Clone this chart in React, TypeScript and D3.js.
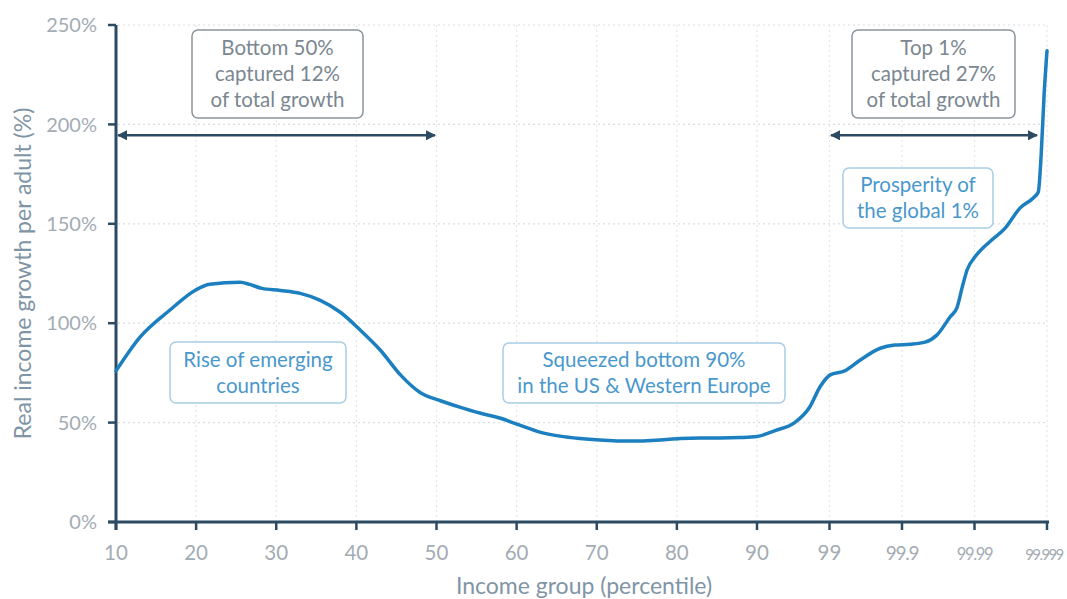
import React from "react";
import * as d3 from "d3";

// x tick labels (evenly spaced categories on a piecewise axis)
const xTickLabels = ["10", "20", "30", "40", "50", "60", "70", "80", "90", "99", "99.9", "99.99", "99.999"];
const yTicks = [0, 50, 100, 150, 200, 250];

// curve: position on the tick axis (0 = p10 ... 12 = p99.999) and growth (%)
const curvePos = [0, 0.3, 0.67, 0.99, 1.17, 1.55, 1.67, 1.82, 2.05, 2.3, 2.55, 2.8, 3.05, 3.3, 3.55, 3.8, 4.05, 4.29, 4.54, 4.79, 5.04, 5.29, 5.54, 5.79, 6.04, 6.29, 6.54, 6.79, 7.04, 7.29, 7.54, 7.79, 8.0, 8.25, 8.52, 8.73, 8.87, 9.01, 9.21, 9.42, 9.7, 9.9, 10.11, 10.32, 10.48, 10.66, 10.76, 10.83, 10.9, 11.01, 11.21, 11.42, 11.63, 11.81, 11.88, 11.92, 11.96, 12.0];
const curveGrowth = [76, 93, 106.5, 116.6, 119.6, 120.6, 119.5, 117.5, 116.5, 115, 111.5, 105.5, 96.5, 86.4, 74, 65, 61, 57.8, 54.8, 52.3, 48.7, 45.2, 43.2, 42, 41.2, 40.7, 40.7, 41.2, 42, 42.3, 42.3, 42.5, 43, 46, 50, 58, 68, 74, 76, 81.4, 87.4, 89, 89.4, 90.5, 94, 103, 108, 118, 127, 133.5, 141, 147.7, 158, 163, 166, 185, 215, 237];

// annotation boxes
const boxTexts = [
  ["Bottom 50%", "captured 12%", "of total growth"],
  ["Top 1%", "captured 27%", "of total growth"],
  ["Prosperity of", "the global 1%"],
  ["Rise of emerging", "countries"],
  ["Squeezed bottom 90%", "in the US & Western Europe"],
];

const FONT = "Lato, 'Open Sans', sans-serif";
const AXIS = "#2c4a62";
const LINE = "#1b7fc0";
const TXT_GRAY = "#7b8791";
const TXT_BLUE = "#4a98cc";

export default function App() {
  const W = 1067, H = 599;
  const x = d3.scaleLinear().domain([0, 8, 12]).range([116, 757, 1047]);
  const y = d3.scaleLinear().domain([0, 250]).range([522, 25]);

  const pts: [number, number][] = curvePos.map((p, i) => [p, curveGrowth[i]]);
  const line = d3.line<[number, number]>().x(d => x(d[0])).y(d => y(d[1])).curve(d3.curveMonotoneX);

  const boxes = [
    { b: [192, 30, 363, 118], t: boxTexts[0], c: TXT_GRAY, s: "#8a949c" },
    { b: [852, 30, 1015, 118], t: boxTexts[1], c: TXT_GRAY, s: "#8a949c" },
    { b: [843, 168, 993, 228], t: boxTexts[2], c: TXT_BLUE, s: "#a9cde6" },
    { b: [170, 342, 346, 403], t: boxTexts[3], c: TXT_BLUE, s: "#a9cde6" },
    { b: [503, 343, 785, 403], t: boxTexts[4], c: TXT_BLUE, s: "#a9cde6" },
  ];
  const BFS = 20.5, BLH = 26;

  const arrowY = y(194.5);

  const labelStyle = (i: number) => {
    if (i === 12) return { fs: 15, ls: -1.6, dx: -3 };
    if (i === 11) return { fs: 16.5, ls: -1.3, dx: 0 };
    if (i === 10) return { fs: 19, ls: -1.2, dx: 0 };
    return { fs: 20.5, ls: 0, dx: 0 };
  };

  return (
    <svg width={W} height={H} style={{ position: "absolute", left: 0, top: 0, background: "#fff" }}>
      <defs>
        <marker id="ah" viewBox="0 0 10 10" refX="9" refY="5" markerWidth="4" markerHeight="4" orient="auto-start-reverse">
          <path d="M0,0 L10,5 L0,10 z" fill={AXIS} />
        </marker>
      </defs>
      {/* gridlines */}
      {yTicks.filter(v => v > 0).map(v => (
        <line key={"gy" + v} x1={118} x2={1047} y1={y(v)} y2={y(v)} stroke="#d9dde1" strokeWidth={1.2} strokeDasharray="2,3" />
      ))}
      {xTickLabels.map((_, i) => i > 0 && (
        <line key={"gx" + i} x1={x(i)} x2={x(i)} y1={y(250)} y2={y(0)} stroke="#e3e7ea" strokeWidth={1.2} strokeDasharray="2,3" />
      ))}

      {/* axes */}
      <line x1={116} x2={116} y1={y(250)} y2={y(0) + 8} stroke={AXIS} strokeWidth={3} />
      <line x1={108} x2={1049} y1={y(0)} y2={y(0)} stroke={AXIS} strokeWidth={3} />
      {yTicks.map(v => (
        <g key={"yt" + v}>
          <line x1={108} x2={116} y1={y(v)} y2={y(v)} stroke={AXIS} strokeWidth={2.5} />
          <text x={97} y={y(v)} dy="0.36em" textAnchor="end" fontFamily={FONT} fontSize={20} fill="#a3acb4">{v + "%"}</text>
        </g>
      ))}
      {xTickLabels.map((l, i) => {
        const st = labelStyle(i);
        return (
          <g key={"xt" + i}>
            <line x1={x(i)} x2={x(i)} y1={y(0)} y2={y(0) + 8} stroke={AXIS} strokeWidth={2.5} />
            <text x={x(i) + st.dx} y={560} textAnchor="middle" fontFamily={FONT} fontSize={st.fs} letterSpacing={st.ls} fill="#a3acb4">{l}</text>
          </g>
        );
      })}
      <text x={584} y={594} textAnchor="middle" fontFamily={FONT} fontSize={23} fill="#7f95a6">Income group (percentile)</text>
      <text transform={`translate(31,${y(125)}) rotate(-90)`} textAnchor="middle" fontFamily={FONT} fontSize={23} fill="#7f95a6">Real income growth per adult (%)</text>

      {/* arrows */}
      <line x1={118} x2={435} y1={arrowY} y2={arrowY} stroke={AXIS} strokeWidth={2.5} markerStart="url(#ah)" markerEnd="url(#ah)" />
      <line x1={831} x2={1037} y1={arrowY} y2={arrowY} stroke={AXIS} strokeWidth={2.5} markerStart="url(#ah)" markerEnd="url(#ah)" />

      {/* boxes */}
      {boxes.map((bx, i) => {
        const [x0, y0, x1, y1] = bx.b;
        const cx = (x0 + x1) / 2;
        const cy = (y0 + y1) / 2;
        const n = bx.t.length;
        return (
          <g key={"box" + i}>
            <rect x={x0} y={y0} width={x1 - x0} height={y1 - y0} rx={6} fill="#fff" stroke={bx.s} strokeWidth={1.5} />
            {bx.t.map((s, j) => (
              <text key={j} x={cx} y={cy + (j - (n - 1) / 2) * BLH} dy="0.35em" textAnchor="middle" fontFamily={FONT} fontSize={BFS} fill={bx.c}>{s}</text>
            ))}
          </g>
        );
      })}

      {/* curve */}
      <path d={line(pts) || ""} fill="none" stroke={LINE} strokeWidth={3.5} strokeLinejoin="round" strokeLinecap="round" />
    </svg>
  );
}
